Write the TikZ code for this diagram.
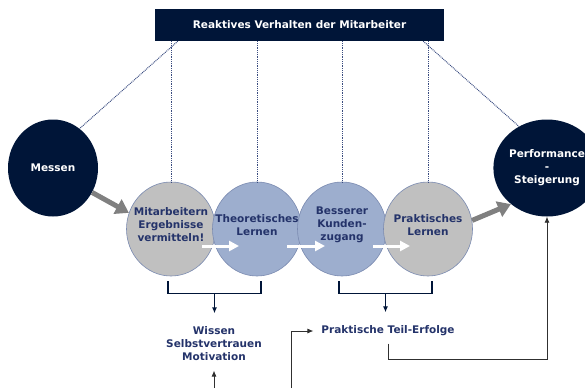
\documentclass[tikz,border=0pt]{standalone}
\usepackage{fontspec}
\setmainfont{DejaVu Sans}
\usetikzlibrary{shapes,arrows.meta,positioning,calc}
\definecolor{navy}{HTML}{001538}
\definecolor{rimblue}{HTML}{7A8AB0}
\definecolor{bluefill}{HTML}{9DAECE}
\definecolor{grayfill}{HTML}{C0C0C0}
\definecolor{textblue}{HTML}{24336A}
\definecolor{dotblue}{HTML}{3A4C80}
\definecolor{arrowgray}{HTML}{808080}
\definecolor{darkline}{HTML}{303030}
\newcommand\diafont{\bfseries\fontsize{10.5}{13}\selectfont}
\begin{document}
\begin{tikzpicture}[x=1pt,y=-1pt]
    % Define Styles
        \tikzstyle{phase} = [ellipse, draw=rimblue, line width=0.06em, minimum width=89pt, minimum height=94pt, inner sep=0pt]
        \tikzstyle{inner} = [align=center, font=\diafont, text=textblue, yshift=4pt]
        \tikzstyle{goal} = [ellipse, fill=navy, minimum width=90pt, minimum height=97pt, inner sep=0pt, align=center, text=white, font=\diafont]
        \tikzstyle{dots} = [draw=dotblue, dash pattern=on 0.9pt off 0.9pt, line width=0.1em]
        \tikzstyle{bigarrow} = [draw=arrowgray, line width=5pt, -{Triangle[length=13pt, width=16pt]}]
        \tikzstyle{whitearrow} = [draw=white, line width=3pt, -{Triangle[length=10pt, width=10pt]}]
        \tikzstyle{bracket} = [draw=navy, line width=0.13em]
        \tikzstyle{navyarrow} = [draw=navy, line width=0.13em, -{Latex[length=6pt, width=5pt]}]
        \tikzstyle{line} = [draw=darkline, line width=0.08em, -{Latex[length=6pt, width=5pt]}]
        \tikzstyle{result} = [align=center, font=\diafont, text=textblue]
        \useasboundingbox (0,0) rectangle (585,388);
        \clip (0,0) rectangle (585,388);
    % Place nodes
        \node [fill=navy, minimum width=289pt, minimum height=32pt, text=white, font=\diafont] (title) at (299.5,25) {Reaktives Verhalten der Mitarbeiter};
        \node [goal] (messen) at (53,168) {Messen};
        \node [goal] (perf) at (547,168) {Performance\\-\\Steigerung};
        \node [phase, fill=grayfill, label={[inner]center:{Mitarbeitern\\Ergebnisse\\vermitteln!}}] (c1) at (171,229) {};
        \node [phase, fill=bluefill, label={[inner]center:{Theoretisches\\Lernen}}] (c2) at (257,229) {};
        \node [phase, fill=bluefill, label={[inner]center:{Besserer\\Kunden-\\zugang}}] (c3) at (342,229) {};
        \node [phase, fill=grayfill, label={[inner]center:{Praktisches\\Lernen}}] (c4) at (428,229) {};
        \node [result] (wissen) at (214,344) {Wissen\\Selbstvertrauen\\Motivation};
        \node [result] (praktisch) at (388,331) {Praktische Teil-Erfolge};
        \coordinate (w0) at (214,388);
        \coordinate (p0) at (291,388);
    % Edges
        \draw[dots] ([xshift=23pt]title.south west) -- (messen.56);
        \draw[dots] ([xshift=-21pt]title.south east) -- (perf.124);
        \foreach \c in {c1,c2,c3,c4}
            \draw[dots] (\c.north |- title.south) -- (\c.north);
        \draw[bigarrow] (messen.-32) -- (c1.159);
        \draw[bigarrow] (c4.11) -- (perf.225);
        \draw[whitearrow] ([shift={(31,17)}]c1.center) -- ([shift={(-18,17)}]c2.center);
        \draw[whitearrow] ([shift={(30,17)}]c2.center) -- ([shift={(-17,17)}]c3.center);
        \draw[whitearrow] ([shift={(31,17)}]c3.center) -- ([shift={(-18,17)}]c4.center);
        \draw[bracket] ([shift={(-3,5)}]c1.south) |- ([shift={(4,17)}]c2.south) coordinate[pos=.75] (b1) -- ([shift={(4,5)}]c2.south);
        \draw[bracket] ([shift={(-3,5)}]c3.south) |- ([shift={(4,17)}]c4.south) coordinate[pos=.75] (b2) -- ([shift={(4,5)}]c4.south);
        \draw[navyarrow, shorten >=10pt] (b1) -- (b1 |- wissen.north);
        \draw[navyarrow, shorten >=10pt] (b2) -- (b2 |- praktisch.north);
        \draw[line, shorten >=6pt] (w0) -- (wissen.south);
        \draw[line, shorten >=4.5pt] (p0) |- (praktisch.west);
        \draw[line, shorten <=4pt] (praktisch.south) -- ++(0,20) -| (perf.south);
\end{tikzpicture}
\end{document}
